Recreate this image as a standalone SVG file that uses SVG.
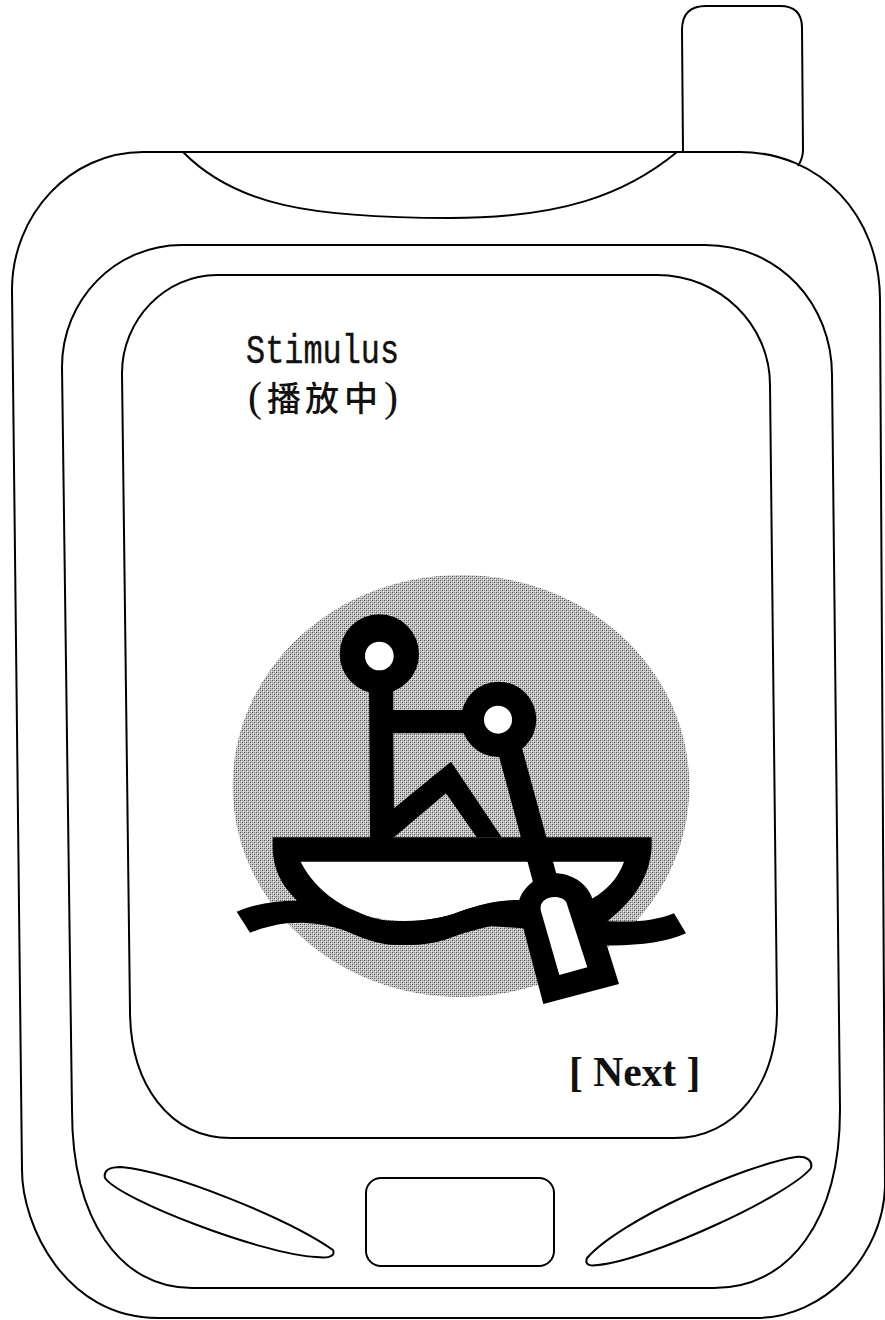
<svg xmlns="http://www.w3.org/2000/svg" width="885" height="1320" viewBox="0 0 885 1320">
<style>
.l{fill:none;stroke:#000;stroke-width:2}
.k{fill:#000}
.w{fill:#fff}
.t{font-family:"Liberation Mono","Noto Sans CJK SC",monospace;fill:#111;stroke:#111;stroke-width:.4}
.c{font-family:"Noto Sans CJK SC","Liberation Serif",serif;fill:#111;font-size:34px;font-weight:500}
.p{font-family:"Liberation Serif",serif;fill:#111;font-size:42px}
</style>
<defs>
<pattern id="dither" width="4" height="4" patternUnits="userSpaceOnUse" patternTransform="scale(3)">
<rect width="4" height="4" fill="#c6c6c6"/>
<rect x="0" y="0" width="1" height="1" fill="#4c4c4c"/>
<rect x="2" y="2" width="1" height="1" fill="#4c4c4c"/>
<rect x="2" y="0" width="1" height="1" fill="#888"/>
<rect x="0" y="2" width="1" height="1" fill="#888"/>
<rect x="1" y="1" width="1" height="1" fill="#eee"/>
<rect x="3" y="3" width="1" height="1" fill="#eee"/>
</pattern>
</defs>
<rect width="885" height="1320" fill="#fff"/>
<g id="antenna"><path class="l" d="M683 152L682 30Q682 6 706 6L780 6Q802 6 802 28L803 150Q803 158 798 166"/></g>
<g id="body"><path class="l" d="M143 152L740 152C820 152 880 215 880 300L885 1187C883 1255 825 1318 756 1318L158 1318C65 1318 22 1225 22 1170L12 290C12 215 70 152 143 152Z"/></g>
<g id="earpiece"><path class="l" d="M183 152C235 205 310 218 450 218C560 218 625 195 677 152"/></g>
<g id="bezel"><path class="l" d="M182 245L705 245C780 245 832 305 832 375L840 1110C840 1220 790 1288 714 1288L192 1288C120 1288 72 1220 72 1110L62 367C62 300 115 245 182 245Z"/></g>
<g id="screen"><path class="l" d="M217 275L657 275C720 275 770 325 770 385L777 1010C777 1085 735 1138 674 1138L231 1138C170 1138 130 1085 130 1010L122 373C122 320 165 275 217 275Z"/></g>
<g id="left-key"><path class="l" d="M121 1167C175 1172 290 1220 333 1250C336 1258 325 1258 316 1257C265 1255 120 1200 105 1178C103 1170 110 1167 121 1167Z"/></g>
<g id="center-key"><rect class="l" x="366" y="1178" width="188" height="88" rx="15"/></g>
<g id="right-key"><path class="l" d="M796 1157C745 1165 620 1220 587 1258C584 1266 592 1266 598 1265C650 1260 790 1195 811 1168C813 1160 806 1156 796 1157Z"/></g>
<g id="stimulus-label">
<text class="t" x="246" y="363" font-size="40" textLength="153" lengthAdjust="spacingAndGlyphs">Stimulus</text>
<text y="411"><tspan class="p" x="248">(</tspan><tspan class="c" x="267 305 344">播放中</tspan><tspan class="p" x="384">)</tspan></text>
</g>
<g id="next-label"><text x="569" y="1086" font-family="Liberation Serif,serif" font-weight="700" font-size="41.5" fill="#111">[ Next ]</text></g>
<g id="icon" transform="translate(220 560) scale(.33333)">
<ellipse cx="723" cy="678" rx="685" ry="633" fill="url(#dither)"/>
<path class="k" d="M158 832L1295 832L1295 860C1290 960 1230 1030 1160 1085L1120 1120L700 1090L240 1030C180 975 158 920 158 860Z"/>
<path class="w" d="M242 905L1212 905C1195 955 1160 990 1118 1015L1000 1040L880 1022C820 1022 760 1040 700 1062C620 1088 530 1088 460 1072C380 1050 290 1000 242 905Z"/>
<path class="k" d="M50 1055C110 1030 170 1022 225 1022C270 1022 330 1030 400 1050C450 1075 490 1083 530 1083C600 1083 650 1078 700 1062C760 1040 820 1020 900 1020L900 1090C840 1090 770 1105 700 1130C640 1155 590 1155 530 1155C470 1155 420 1130 370 1110C310 1090 250 1085 200 1090C160 1095 125 1105 90 1118Z"/>
<path class="k" d="M1120 1080C1230 1090 1300 1085 1362 1060L1398 1120C1330 1150 1240 1160 1120 1155Z"/>
<path class="k" d="M447 370L520 370L520 450L760 450L760 520L520 520L522 745L693 605L845 832L770 832L678 700L522 832L450 850Z"/>
<path class="k" d="M832 570L905 560L1010 945L940 970Z"/>
<circle class="k" cx="478" cy="282" r="119"/>
<circle class="w" cx="478" cy="288" r="43"/>
<circle class="k" cx="836" cy="478" r="113"/>
<circle class="w" cx="834" cy="479" r="42"/>
<path class="k" d="M970 1332L1197 1272L1115 1010C1095 965 1050 940 1005 940C950 945 900 985 893 1040Z"/>
<path class="w" d="M1018 1245L1102 1222L1040 1030C1030 1000 955 1005 962 1050Z"/>
</g>
</svg>
